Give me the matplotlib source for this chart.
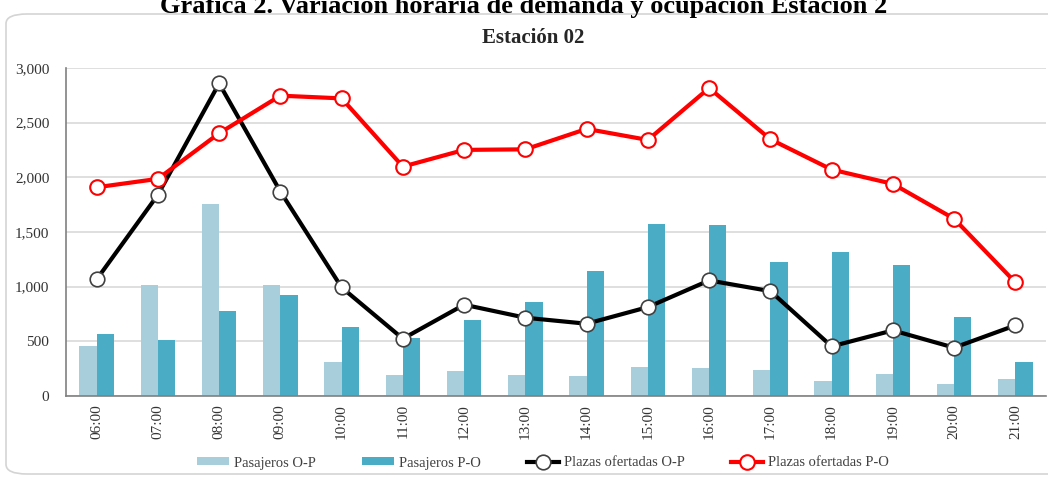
import numpy as np
import matplotlib.pyplot as plt
from matplotlib.patches import FancyBboxPatch
from matplotlib.ticker import FuncFormatter

plt.rcParams['font.family'] = ['Liberation Serif', 'DejaVu Serif']

# datos
horas = ['06:00', '07:00', '08:00', '09:00', '10:00', '11:00', '12:00', '13:00',
         '14:00', '15:00', '16:00', '17:00', '18:00', '19:00', '20:00', '21:00']
pasajeros_op = [457, 1015, 1758, 1015, 308, 195, 228, 195, 186, 265, 259, 235, 137, 198, 113, 159]
pasajeros_po = [570, 509, 777, 926, 630, 530, 698, 859, 1139, 1575, 1568, 1230, 1319, 1194, 719, 308]
plazas_op = [1066, 1840, 2859, 1870, 993, 524, 835, 716, 661, 813, 1057, 959, 454, 600, 442, 646]
plazas_po = [1909, 1986, 2403, 2747, 2722, 2098, 2251, 2256, 2443, 2342, 2817, 2348, 2071, 1940, 1621, 1039]

fig = plt.figure(figsize=(10.48, 4.8), dpi=100)

# marco redondeado del gráfico
marco = FancyBboxPatch((6 / 1048, 1 - 474 / 480), 1.05, (474 - 14) / 480,
                       boxstyle='round,pad=0,rounding_size=0.02',
                       transform=fig.transFigure, facecolor='none',
                       edgecolor='#d4d4d4', linewidth=1.2, zorder=-1)
fig.patches.append(marco)

# título principal (cortado arriba como en la imagen original)
fig.text(0.5, 1 - 13 / 480, 'Gráfica 2. Variación horaria de demanda y ocupación Estación 2',
         ha='center', va='baseline', fontsize=19, fontweight='bold', color='black')

ax = fig.add_axes([66 / 1048, 1 - 396 / 480, (1046 - 66) / 1048, (396 - 68) / 480])
ax.patch.set_alpha(0)
x = np.arange(len(horas))
w = 0.28

b1 = ax.bar(x - w / 2, pasajeros_op, w, color='#a8cddb', zorder=2)
b2 = ax.bar(x + w / 2, pasajeros_po, w, color='#4bacc6', zorder=2)
l1, = ax.plot(x, plazas_op, color='black', lw=3, marker='o', ms=10.5, mfc='white',
              mec='#404040', mew=1.2, zorder=3)
l2, = ax.plot(x, plazas_po, color='#ff0000', lw=3, marker='o', ms=10.5, mfc='white',
              mec='#ff0000', mew=1.5, zorder=4)

ax.set_xlim(-0.5, len(horas) - 0.5)
ax.set_ylim(0, 3000)
ax.set_yticks(np.arange(0, 3001, 500))
ax.yaxis.set_major_formatter(FuncFormatter(lambda v, p: f'{int(v):,}'))
ax.set_xticks(x)
ax.set_xticklabels(horas, rotation=90)
ax.tick_params(axis='both', labelsize=11, colors='#333333', length=0)
ax.tick_params(axis='x', pad=6)
ax.tick_params(axis='y', pad=12)
ax.grid(axis='y', color='#d9d9d9', lw=1.2, zorder=0)
ax.set_axisbelow(True)
for s in ['top', 'right']:
    ax.spines[s].set_visible(False)
ax.spines['left'].set_color('#808080')
ax.spines['bottom'].set_color('#808080')
ax.spines['left'].set_linewidth(1.2)
ax.spines['bottom'].set_linewidth(1.2)

fig.text(533 / 1048, 1 - 38 / 480, 'Estación 02', ha='center', va='center',
         fontsize=15, fontweight='bold', color='#262626')

fig.legend([b1, b2, l1, l2], ['Pasajeros O-P', 'Pasajeros P-O',
                              'Plazas ofertadas O-P', 'Plazas ofertadas P-O'],
           loc='center', bbox_to_anchor=(0.518, 1 - 463 / 480), ncol=4, frameon=False,
           fontsize=10.5, handlelength=2.2, handleheight=0.5, columnspacing=3.2,
           handletextpad=0.3, labelcolor='#404040')

plt.savefig('out.png', dpi=100)
